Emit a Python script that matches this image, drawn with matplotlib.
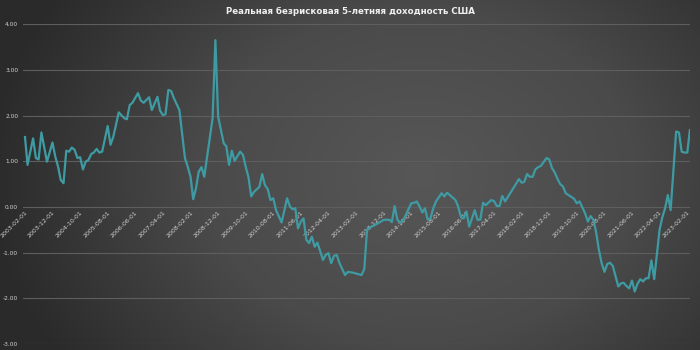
import numpy as np
import pandas as pd
import matplotlib
matplotlib.use("Agg")
import matplotlib.pyplot as plt
from matplotlib.colors import LinearSegmentedColormap

TITLE = "Реальная безрисковая 5-летняя доходность США"

months = [
    "2003-02", "2003-03", "2003-05", "2003-06", "2003-07", "2003-08", "2003-10", "2003-12",
    "2004-01", "2004-02", "2004-03", "2004-04", "2004-05", "2004-06", "2004-07", "2004-08",
    "2004-09", "2004-10", "2004-11", "2004-12", "2005-01", "2005-02", "2005-03", "2005-04",
    "2005-05", "2005-06", "2005-08", "2005-09", "2005-10", "2005-12", "2006-02", "2006-03",
    "2006-04", "2006-05", "2006-07", "2006-08", "2006-09", "2006-11", "2006-12", "2007-02",
    "2007-03", "2007-04", "2007-05", "2007-06", "2007-07", "2007-08", "2007-10", "2007-12",
    "2008-01", "2008-02", "2008-03", "2008-04", "2008-05", "2008-06", "2008-07", "2008-10",
    "2008-11", "2008-12", "2009-02", "2009-03", "2009-04", "2009-05", "2009-06", "2009-08",
    "2009-09", "2009-10", "2009-11", "2009-12", "2010-01", "2010-03", "2010-04", "2010-05",
    "2010-06", "2010-07", "2010-08", "2010-09", "2010-11", "2011-01", "2011-02", "2011-03",
    "2011-04", "2011-05", "2011-06", "2011-07", "2011-08", "2011-09", "2011-10", "2011-11",
    "2011-12", "2012-02", "2012-03", "2012-04", "2012-05", "2012-06", "2012-07", "2012-08",
    "2012-10", "2012-11", "2013-01", "2013-04", "2013-05", "2013-06", "2013-07", "2013-09",
    "2013-11", "2013-12", "2014-02", "2014-03", "2014-04", "2014-05", "2014-06", "2014-07",
    "2014-08", "2014-10", "2014-11", "2014-12", "2015-01", "2015-02", "2015-03", "2015-04",
    "2015-05", "2015-06", "2015-07", "2015-09", "2015-10", "2015-11", "2015-12", "2016-02",
    "2016-03", "2016-04", "2016-05", "2016-06", "2016-07", "2016-09", "2016-10", "2016-11",
    "2016-12", "2017-01", "2017-03", "2017-04", "2017-05", "2017-06", "2017-07", "2017-08",
    "2018-01", "2018-02", "2018-03", "2018-04", "2018-05", "2018-06", "2018-07", "2018-08",
    "2018-09", "2018-11", "2018-12", "2019-01", "2019-02", "2019-03", "2019-04", "2019-05",
    "2019-06", "2019-07", "2019-08", "2019-09", "2019-10", "2019-11", "2020-01", "2020-02",
    "2020-03", "2020-04", "2020-05", "2020-06", "2020-07", "2020-08", "2020-09", "2020-10",
    "2020-11", "2021-01", "2021-02", "2021-03", "2021-04", "2021-05", "2021-06", "2021-07",
    "2021-08", "2021-09", "2021-10", "2021-11", "2021-12", "2022-01", "2022-02", "2022-04",
    "2022-05", "2022-06", "2022-07", "2022-08", "2022-10", "2022-11", "2022-12", "2023-01",
    "2023-02", "2023-03",
]

real_yield = [
    1.53, 0.92, 1.50, 1.07, 1.04, 1.63, 0.99, 1.41,
    1.10, 0.88, 0.59, 0.52, 1.23, 1.21, 1.30, 1.25,
    1.07, 1.09, 0.82, 0.99, 1.03, 1.16, 1.19, 1.27,
    1.19, 1.21, 1.77, 1.36, 1.53, 2.07, 1.94, 1.92,
    2.23, 2.28, 2.49, 2.33, 2.28, 2.40, 2.12, 2.41,
    2.11, 2.01, 2.03, 2.56, 2.54, 2.38, 2.12, 1.07,
    0.88, 0.66, 0.17, 0.41, 0.77, 0.87, 0.66, 1.94,
    3.65, 1.98, 1.39, 1.33, 0.92, 1.23, 1.01, 1.21,
    1.14, 0.88, 0.65, 0.23, 0.33, 0.44, 0.72, 0.48,
    0.39, 0.15, 0.19, -0.07, -0.34, 0.19, 0.01, -0.05,
    -0.03, -0.47, -0.32, -0.25, -0.72, -0.79, -0.65, -0.87,
    -0.78, -1.16, -1.05, -1.01, -1.23, -1.07, -1.05, -1.23,
    -1.49, -1.42, -1.44, -1.49, -1.36, -0.50, -0.45, -0.39,
    -0.32, -0.28, -0.28, -0.33, 0.02, -0.28, -0.34, -0.30,
    -0.18, 0.08, 0.09, 0.12, 0.01, -0.12, -0.03, -0.28,
    -0.25, -0.03, 0.12, 0.30, 0.23, 0.31, 0.26, 0.15,
    0.01, -0.22, -0.25, -0.10, -0.43, -0.07, -0.28, -0.28,
    0.09, 0.04, 0.15, 0.13, 0.02, 0.02, 0.24, 0.12,
    0.61, 0.53, 0.55, 0.72, 0.66, 0.66, 0.82, 0.87,
    0.90, 1.07, 1.04, 0.85, 0.75, 0.62, 0.50, 0.45,
    0.30, 0.26, 0.22, 0.18, 0.08, 0.12, -0.14, -0.32,
    -0.20, -0.28, -0.55, -0.94, -1.23, -1.42, -1.25, -1.22,
    -1.29, -1.74, -1.67, -1.66, -1.73, -1.78, -1.61, -1.85,
    -1.68, -1.58, -1.63, -1.56, -1.56, -1.17, -1.58, -0.50,
    -0.23, -0.03, 0.26, -0.07, 1.65, 1.63, 1.21, 1.19,
    1.19, 1.68,
]

y_ticks = [-3, -2, -1, 0, 1, 2, 3, 4]

LINE_COLOR = "#3f9ba3"
TEXT_COLOR = "#d0d0d0"
GRID_COLOR = "#5e5e5e"


def background(fig):
    # radial shading: lighter middle, darker edges
    bg = fig.add_axes([0, 0, 1, 1], zorder=-10)
    h, w = 350, 700
    yy, xx = np.mgrid[0:h, 0:w]
    cx, cy = 0.60 * w, 0.50 * h
    r = np.sqrt(((xx - cx) / (0.62 * w)) ** 2 + ((yy - cy) / (0.95 * h)) ** 2)
    r = np.clip(r, 0, 1)
    cmap = LinearSegmentedColormap.from_list("bg", ["#575757", "#4a4a4a", "#2a2a2a"])
    bg.imshow(r, cmap=cmap, aspect="auto", extent=[0, 1, 0, 1], origin="upper")
    bg.axis("off")


def main():
    fig = plt.figure(figsize=(7, 3.5), dpi=100)
    background(fig)

    dates = pd.to_datetime(months, format="%Y-%m")

    ax = fig.add_axes([0.033, 0.017, 0.953, 0.914])
    ax.set_facecolor("none")
    # x axis crosses at zero; set before the tick labels, it rebuilds the ticks
    ax.spines["bottom"].set_position(("data", 0))
    for s in ax.spines.values():
        s.set_visible(False)

    ax.plot(dates, real_yield, color=LINE_COLOR, lw=1.6, solid_joinstyle="round",
            zorder=3)

    ax.set_ylim(-3, 4)
    ax.set_xlim(pd.Timestamp("2003-01-11"), pd.Timestamp("2023-03-05"))

    ax.set_yticks(y_ticks)
    ax.set_yticklabels([f"{v:.2f}" for v in y_ticks])
    ax.grid(axis="y", color=GRID_COLOR, lw=0.8, zorder=1)
    ax.grid(axis="x", visible=False)

    xt = pd.date_range("2003-02-01", periods=25, freq="10MS")
    ax.set_xticks(xt)
    ax.set_xticklabels([d.strftime("%Y-%m-%d") for d in xt])

    ax.tick_params(axis="both", length=0, colors=TEXT_COLOR, labelsize=4.5)
    ax.tick_params(axis="x", pad=2, labelrotation=45)
    ax.tick_params(axis="y", pad=3.5, labelsize=4.2)
    for lbl in ax.get_xticklabels():
        lbl.set_ha("right")
        lbl.set_va("top")
        lbl.set_rotation_mode("anchor")

    fig.text(0.5, 0.968, TITLE, ha="center", va="center", color="#f0f0f0",
             fontsize=6.2, fontweight="bold")

    fig.savefig("out.png", dpi=100)
    plt.close(fig)


if __name__ == "__main__":
    main()
